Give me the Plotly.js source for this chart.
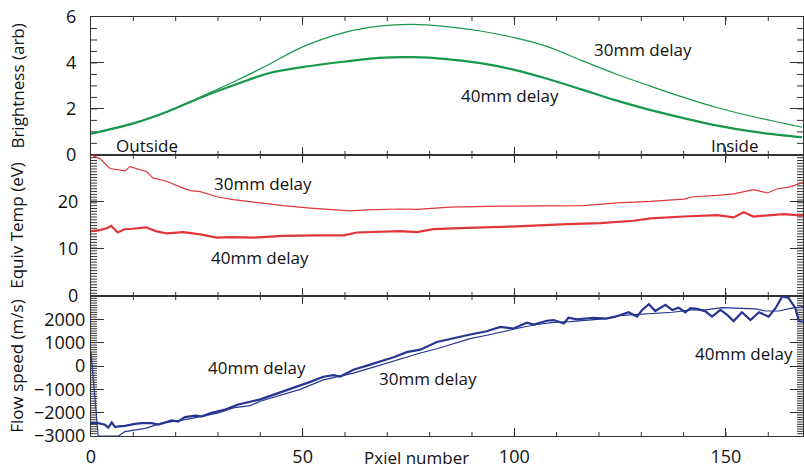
<!DOCTYPE html>
<html>
<head>
<meta charset="utf-8">
<script src="https://cdn.plot.ly/plotly-3.0.1.min.js"></script>
<style>html,body{margin:0;padding:0;background:#fff;}#chart{width:804px;height:472px;}</style>
</head>
<body>
<div id="chart"></div>
<script>
// ---- Data ----
const xBright = [0, 10, 18, 26, 34, 42, 50, 60, 68, 76, 84, 92, 100, 108, 116, 124, 132, 140, 148, 156, 164, 168];
const bright30 = [0.92, 1.37, 1.88, 2.53, 3.2, 3.93, 4.7, 5.33, 5.6, 5.68, 5.58, 5.39, 5.1, 4.7, 4.1, 3.52, 3.0, 2.5, 2.05, 1.68, 1.36, 1.2];
const bright40 = [0.92, 1.37, 1.88, 2.5, 3.05, 3.55, 3.82, 4.06, 4.22, 4.25, 4.17, 3.99, 3.7, 3.3, 2.84, 2.37, 1.96, 1.6, 1.27, 1.02, 0.84, 0.77];

const xTemp30 = [0, 2.1, 4.5, 6, 8, 9.2, 11.6, 13.2, 14.6, 17.9, 21, 23.4, 25.8, 29.7, 33.6, 39.2, 45.4, 51.8, 61.2, 65.2, 73, 77, 84.9, 96.7, 104.5, 116.3, 124.3, 132.2, 140, 142.3, 148, 151.8, 156.5, 159.8, 162.2, 165.2, 168.3];
const temp30 = [30, 29.2, 27.1, 26.9, 26.6, 27.5, 26.9, 26.4, 25.1, 24.4, 23.2, 22.4, 22.2, 21.1, 20.5, 19.9, 19.2, 18.7, 18.1, 18.3, 18.5, 18.4, 18.9, 19.1, 19.2, 19.2, 19.8, 20.1, 20.6, 21.1, 21.4, 21.7, 22.6, 21.9, 22.8, 23.2, 24.2];
const xTemp40 = [0, 2.1, 3.7, 4.8, 6.3, 7.9, 9.8, 13, 15.3, 17.9, 21.8, 25.8, 29.7, 33.6, 38.4, 45.4, 53.3, 59.7, 62.8, 73, 77, 80.9, 88.8, 100.6, 112.4, 120.3, 128.2, 132.2, 140, 148, 151.8, 154.2, 156.5, 159.8, 163.6, 168.3];
const temp40 = [13.8, 14.0, 14.4, 14.9, 13.5, 14.2, 14.3, 14.6, 13.8, 13.3, 13.6, 13.1, 12.4, 12.5, 12.4, 12.8, 12.9, 12.9, 13.5, 13.8, 13.6, 14.2, 14.5, 14.8, 15.3, 15.5, 16.0, 16.5, 16.9, 17.2, 16.7, 17.8, 16.9, 17.2, 17.4, 17.1];

const xFlow30 = [0, 1.7, 6.5, 8, 12.8, 16.7, 19.1, 22.2, 26.2, 30.1, 34, 37.6, 40, 44.7, 49.4, 54.9, 58.9, 62, 65.2, 69.1, 73, 77.8, 81.7, 85.7, 89.6, 93.5, 97.5, 101.4, 105.4, 109.3, 113.2, 117.2, 121.7, 124.7, 129.4, 133.3, 137.3, 142, 145.2, 149.1, 153, 157, 159.3, 162.5, 165.6, 168.3];
const flow30 = [595, -3000, -3000, -2810, -2670, -2450, -2380, -2300, -2160, -2010, -1780, -1700, -1510, -1260, -1000, -595, -450, -305, -130, 85, 305, 560, 740, 955, 1175, 1320, 1490, 1640, 1780, 1870, 1900, 1970, 2030, 2160, 2215, 2260, 2305, 2405, 2405, 2505, 2480, 2450, 2360, 2360, 2480, 2550];
const xFlow40 = [0, 1.7, 3.3, 4.1, 4.9, 5.7, 6.5, 8.0, 10.4, 12, 14.3, 15.9, 19.1, 20.6, 22.2, 24.6, 26.2, 28.5, 31.7, 34.8, 40, 44.7, 49.4, 51.8, 54.9, 57.3, 58.9, 62, 65.2, 68.3, 71.5, 74.6, 77.8, 81.7, 85.7, 89.6, 93.5, 96.7, 99.8, 103, 104.6, 107.7, 109.3, 111.7, 112.8, 114.8, 118.7, 121.7, 123.9, 127, 129, 130.2, 131.8, 133.3, 135.7, 137.3, 138.8, 140.4, 141.6, 143.2, 145.2, 146.7, 148.7, 150.3, 151.8, 153.8, 155.8, 157.8, 160.1, 161.7, 163.3, 164.8, 166.4, 167.2, 168.3];
const flow40 = [-2450, -2450, -2520, -2640, -2420, -2620, -2590, -2565, -2480, -2450, -2450, -2510, -2330, -2380, -2190, -2130, -2160, -2010, -1870, -1650, -1430, -1140, -855, -680, -460, -390, -450, -160, 15, 190, 375, 595, 700, 1030, 1205, 1350, 1490, 1680, 1610, 1855, 1780, 1940, 1970, 1825, 2070, 2000, 2070, 2030, 2115, 2305, 2115, 2405, 2650, 2360, 2620, 2405, 2505, 2305, 2480, 2450, 2335, 2115, 2405, 2190, 1925, 2305, 1970, 2305, 2115, 2480, 2985, 2915, 2480, 1925, 1900];

// labelled ticks
const xTicks = [0, 50, 100, 150];
const brightTicks = [0, 2, 4, 6];
const tempTicks = [0, 10, 20];
const flowTicks = [-3000, -2000, -1000, 0, 1000, 2000];

const panelTitles = ['Brightness (arb)', 'Equiv Temp (eV)', 'Flow speed (m/s)'];
const xTitle = 'Pxiel number';
const seriesNames = ['30mm delay', '40mm delay'];

// ---- Styles / layout geometry ----
const W = 804, H = 472, M = {l: 91, r: 1, t: 17, b: 36};
const green = '#17984a', red = '#e0363a', blue = '#26358f';
const thin = 1.2, thick = 2.2;
const FONT = 'Open Sans, sans-serif';
const axisColor = '#333';
const txt = '#111';
const X_RANGE = [0, 168.2];
const rBright = [0, 6], rTemp = [0, 30], rFlow = [-3000, 3000];
const domTop = [0.671, 1], domMid = [0.334, 0.671], domBot = [0, 0.334];

// small (minor) tick marks on all four sides of a panel, as one decoration trace
function minorTickTrace(xa, ya, xRange, yRange, dom, xStep, yStep, xLen, yLen) {
  const plotW = W - M.l - M.r, plotH = (H - M.t - M.b) * (dom[1] - dom[0]);
  const ux = (xRange[1] - xRange[0]) / plotW, uy = (yRange[1] - yRange[0]) / plotH;
  const xs = [], ys = [];
  const nx = Math.floor((xRange[1] - xRange[0]) / xStep + 1e-9);
  for (let i = 1; i <= nx; i++) {
    const v = xRange[0] + i * xStep;
    if (v >= xRange[1]) break;
    xs.push(v, v, null, v, v, null);
    ys.push(yRange[0], yRange[0] + xLen * uy, null, yRange[1], yRange[1] - xLen * uy, null);
  }
  const ny = Math.round((yRange[1] - yRange[0]) / yStep);
  for (let j = 1; j < ny; j++) {
    const v = yRange[0] + j * yStep;
    xs.push(xRange[0], xRange[0] + yLen * ux, null, xRange[1], xRange[1] - yLen * ux, null);
    ys.push(v, v, null, v, v, null);
  }
  return {type: 'scatter', mode: 'lines', x: xs, y: ys, xaxis: xa, yaxis: ya, connectgaps: false,
    line: {color: axisColor, width: 1}, hoverinfo: 'skip', showlegend: false, name: 'ticks'};
}

const traces = [
  minorTickTrace('x', 'y', X_RANGE, rBright, domTop, 10, 0.5, 4, 6),
  minorTickTrace('x2', 'y2', X_RANGE, rTemp, domMid, 10, 0.6, 4, 6),
  minorTickTrace('x3', 'y3', X_RANGE, rFlow, domBot, 10, 100, 4, 6),
  {x: xBright, y: bright30, xaxis: 'x', yaxis: 'y', name: seriesNames[0], mode: 'lines', line: {color: green, width: thin, shape: 'spline'}},
  {x: xBright, y: bright40, xaxis: 'x', yaxis: 'y', name: seriesNames[1], mode: 'lines', line: {color: green, width: thick, shape: 'spline'}},
  {x: xTemp30, y: temp30, xaxis: 'x2', yaxis: 'y2', name: seriesNames[0], mode: 'lines', line: {color: red, width: thin}},
  {x: xTemp40, y: temp40, xaxis: 'x2', yaxis: 'y2', name: seriesNames[1], mode: 'lines', line: {color: red, width: thick}},
  {x: xFlow30, y: flow30, xaxis: 'x3', yaxis: 'y3', name: seriesNames[0], mode: 'lines', line: {color: blue, width: thin}},
  {x: xFlow40, y: flow40, xaxis: 'x3', yaxis: 'y3', name: seriesNames[1], mode: 'lines', line: {color: blue, width: thick}}
];

// Regular ticks from the labelled tick list; ticks in range but not in the list keep their mark, no label.
function tickSetup(ticks, range) {
  const d = ticks[1] - ticks[0];
  const alias = {};
  for (let v = ticks[ticks.length - 1] + d; v <= range[1] + 1e-9; v += d) alias[String(v)] = '';
  return {tickmode: 'linear', tick0: ticks[0], dtick: d, labelalias: alias};
}

function xAxis(anchor, labels) {
  const a = Object.assign({
    anchor: anchor, domain: [0, 1], range: X_RANGE,
    ticks: 'inside', ticklen: 8, tickcolor: axisColor, showline: true, linecolor: axisColor, linewidth: 1,
    mirror: 'ticks', showgrid: false, zeroline: false, showticklabels: labels,
    tickfont: {family: FONT, size: 18, color: txt}, ticklabelstandoff: 4
  }, tickSetup(xTicks, X_RANGE));
  if (anchor !== 'y3') a.matches = 'x3';
  return a;
}
function yAxis(anchor, domain, range, ticks, title, standoff, labelOff) {
  return Object.assign({
    anchor: anchor, domain: domain, range: range,
    ticks: 'inside', ticklen: 13, tickcolor: axisColor, showline: true, linecolor: axisColor, linewidth: 1,
    mirror: 'ticks', showgrid: false, zeroline: false,
    tickfont: {family: FONT, size: 18, color: txt}, ticklabelstandoff: labelOff,
    title: {text: title, font: {family: FONT, size: 17, color: txt}, standoff: standoff}
  }, tickSetup(ticks, range));
}

const ann = (xref, yref, x, y, text) => ({xref: xref, yref: yref, x: x, y: y, text: text, showarrow: false,
  font: {family: FONT, size: 17, color: txt}, xanchor: 'center', yanchor: 'middle'});

const xTitleAnn = Object.assign(ann('paper', 'paper', 0.4565, -0.084, xTitle), {yanchor: 'bottom'});

const layout = {
  width: W, height: H,
  margin: M,
  paper_bgcolor: '#fff', plot_bgcolor: '#fff',
  showlegend: false,
  font: {family: FONT, size: 17, color: txt},
  xaxis: xAxis('y', false),
  xaxis2: xAxis('y2', false),
  xaxis3: xAxis('y3', true),
  yaxis: yAxis('x', domTop, rBright, brightTicks, panelTitles[0], 37, 10),
  yaxis2: yAxis('x2', domMid, rTemp, tempTicks, panelTitles[1], 29, 8),
  yaxis3: yAxis('x3', domBot, rFlow, flowTicks, panelTitles[2], 5, 1),
  annotations: [
    ann('x', 'y', 130.4, 4.6, seriesNames[0]),
    ann('x', 'y', 99, 2.57, seriesNames[1]),
    ann('x', 'y', 13.2, 0.39, 'Outside'),
    ann('x', 'y', 152.1, 0.39, 'Inside'),
    ann('x2', 'y2', 40.6, 23.9, seriesNames[0]),
    ann('x2', 'y2', 39.9, 8.2, seriesNames[1]),
    ann('x3', 'y3', 39.2, -60, seriesNames[1]),
    ann('x3', 'y3', 79.6, -520, seriesNames[0]),
    ann('x3', 'y3', 154.3, 520, seriesNames[1]),
    xTitleAnn
  ]
};

Plotly.newPlot('chart', traces, layout, {displayModeBar: false, staticPlot: true});
</script>
</body>
</html>
